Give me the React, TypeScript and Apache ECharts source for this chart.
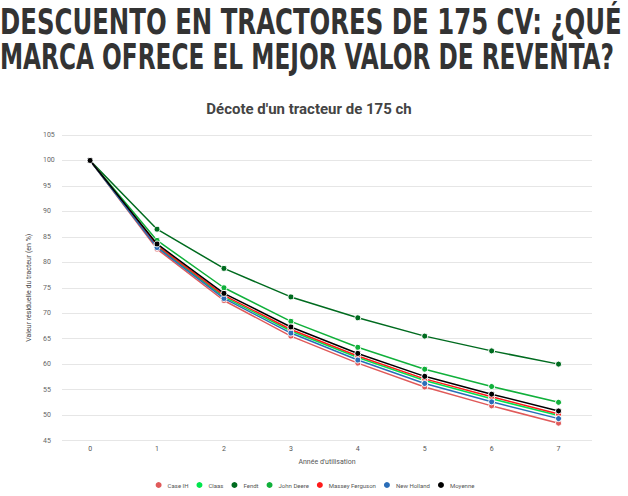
import React, { useEffect, useRef } from "react";
import * as echarts from "echarts";

const years = [0, 1, 2, 3, 4, 5, 6, 7];
const brands = ["Case IH", "Claas", "Fendt", "John Deere", "Massey Ferguson", "New Holland", "Moyenne"];
const caseIH = [100, 82.6, 72.5, 65.5, 60.2, 55.5, 51.8, 48.4];
const claas = [100, 83.1, 73.2, 66.5, 61.3, 56.8, 53.2, 49.9];
const fendt = [100, 86.5, 78.8, 73.2, 69.1, 65.5, 62.6, 60.0];
const johnDeere = [100, 84.3, 75.0, 68.4, 63.3, 59.0, 55.6, 52.5];
const masseyFerguson = [100, 83.3, 73.5, 66.8, 61.6, 57.1, 53.6, 50.2];
const newHolland = [100, 82.9, 72.9, 66.1, 60.8, 56.2, 52.6, 49.3];
const moyenne = [100, 83.6, 73.9, 67.3, 62.1, 57.6, 54.1, 50.8];
const seriesValues = [caseIH, claas, fendt, johnDeere, masseyFerguson, newHolland, moyenne];
const colors = ["#e05a5a", "#00e64d", "#006b1f", "#10b03a", "#ff1a1a", "#2a6db8", "#000000"];

const heading1 = "DESCUENTO EN TRACTORES DE 175 CV: ¿QUÉ";
const heading2 = "MARCA OFRECE EL MEJOR VALOR DE REVENTA?";
const chartTitle = "Décote d'un tracteur de 175 ch";
const yName = "Valeur résiduelle du tracteur (en %)";
const xName = "Année d'utilisation";

export default function App() {
  const ref = useRef<HTMLDivElement>(null);
  useEffect(() => {
    if (!ref.current) return;
    const chart = echarts.init(ref.current, null, { renderer: "svg" });
    const headFont = "'DejaVu Sans Condensed', 'Liberation Sans Narrow', 'DejaVu Sans', sans-serif";
    chart.setOption({
      animation: false,
      backgroundColor: "#ffffff",
      textStyle: { fontFamily: "Roboto, sans-serif" },
      graphic: [
        {
          type: "text",
          x: 0,
          y: 4,
          scaleX: 0.775,
          style: {
            text: heading1,
            font: `bold 35px ${headFont}`,
            fill: "#333333",
            align: "left",
            verticalAlign: "top",
          },
        },
        {
          type: "text",
          x: 0,
          y: 39,
          scaleX: 0.738,
          style: {
            text: heading2,
            font: `bold 35px ${headFont}`,
            fill: "#333333",
            align: "left",
            verticalAlign: "top",
          },
        },
      ],
      title: {
        text: chartTitle,
        left: 304,
        textAlign: "center",
        top: 96,
        textStyle: { fontSize: 15, fontWeight: "bold", color: "#444444", fontFamily: "Roboto, sans-serif" },
      },
      legend: {
        top: 475,
        left: "center",
        icon: "circle",
        itemWidth: 8,
        itemHeight: 8,
        itemGap: 6,
        textStyle: { fontSize: 6, color: "#555555" },
        data: brands,
      },
      grid: { left: 62, right: 36, top: 135, bottom: 55.5 },
      xAxis: {
        type: "value",
        min: -0.42,
        max: 7.5,
        splitNumber: 8,
        name: xName,
        nameLocation: "middle",
        nameGap: 18,
        nameTextStyle: { fontSize: 7, color: "#555555" },
        axisLine: { show: false },
        axisTick: { show: false },
        splitLine: { show: false },
        axisLabel: {
          fontSize: 7,
          color: "#555555",
          margin: 5,
          formatter: (v: number) => (Number.isInteger(v) && years.includes(v) ? String(v) : ""),
        },
      },
      yAxis: {
        type: "value",
        min: 45,
        max: 105,
        interval: 5,
        name: yName,
        nameLocation: "middle",
        nameGap: 27,
        nameTextStyle: { fontSize: 7, color: "#444444" },
        axisLine: { show: false },
        axisTick: { show: false },
        splitLine: { lineStyle: { color: "#e6e6e6", width: 1 } },
        axisLabel: { fontSize: 7, color: "#666666", align: "left", margin: 19 },
      },
      series: brands.map((name, i) => ({
        name,
        type: "line",
        data: years.map((y, j) => [y, seriesValues[i][j]]),
        symbol: "circle",
        symbolSize: 6,
        showSymbol: true,
        color: colors[i],
        lineStyle: { width: 1.5, color: colors[i] },
        itemStyle: { color: colors[i], borderColor: "#ffffff", borderWidth: 1 },
        z: 2 + i,
      })),
    });
    return () => chart.dispose();
  }, []);
  return (
    <div
      ref={ref}
      style={{ position: "absolute", left: 0, top: 0, width: 628, height: 496 }}
    />
  );
}
